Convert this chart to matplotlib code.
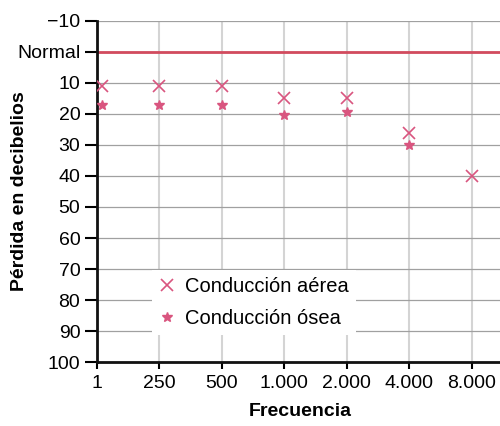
import matplotlib.pyplot as plt
import numpy as np

plt.rcParams['font.family'] = ['Liberation Sans', 'DejaVu Sans']

freq_labels = ['1', '250', '500', '1.000', '2.000', '4.000', '8.000']
aerea = [11, 11, 11, 15, 15, 26, 40]
osea = [17, 17, 17, 20.5, 19.5, 30]
y_ticks = [-10, 0, 10, 20, 30, 40, 50, 60, 70, 80, 90, 100]
y_labels = ['\u221210', 'Normal', '10', '20', '30', '40', '50', '60', '70', '80', '90', '100']

pink = '#d9557f'
red = '#d24b5e'

fig = plt.figure(figsize=(5, 4.26), dpi=100)
ax = fig.add_axes([0.194, 0.150, 0.812, 0.801])

x = np.arange(len(freq_labels))
ax.set_xlim(0, 6.5)
ax.set_ylim(100, -10)

ax.grid(True, axis='y', color='#a0a0a0', linewidth=0.9)
ax.grid(True, axis='x', color='#d4d4d4', linewidth=1.5)
ax.set_axisbelow(True)
ax.axhline(0, color=red, linewidth=2, zorder=2)

xa = x.astype(float)
xa[0] = 0.08
ax.plot(xa, aerea, linestyle='none', marker='x', markersize=8, markeredgewidth=1.2,
        color=pink, label='Conducción aérea', zorder=3)
ax.plot(xa[:len(osea)], osea, linestyle='none', marker='*', markersize=7,
        color=pink, label='Conducción ósea', zorder=3)

ax.set_xticks(x)
ax.set_xticklabels(freq_labels, fontsize=14)
ax.set_yticks(y_ticks)
ax.set_yticklabels(y_labels, fontsize=14)

for s in ['top', 'right']:
    ax.spines[s].set_visible(False)
for s in ['left', 'bottom']:
    ax.spines[s].set_linewidth(2)
    ax.spines[s].set_color('#111111')
ax.tick_params(axis='y', length=9, width=1.5, direction='out', pad=3)
ax.tick_params(axis='x', length=5, width=1.5, direction='out', pad=4)

ax.set_xlabel('Frecuencia', fontsize=14, fontweight='bold', labelpad=8)
ax.set_ylabel('Pérdida en decibelios', fontsize=14, fontweight='bold')
ax.yaxis.set_label_coords(-0.17, 0.5)

leg = ax.legend(loc='upper left', bbox_to_anchor=(0.135, 0.27), borderaxespad=0,
                frameon=True, fontsize=14.5, handletextpad=0.5, borderpad=0.35,
                labelspacing=0.65, handlelength=0.8)
leg.get_frame().set_edgecolor('none')
leg.get_frame().set_facecolor('white')
leg.get_frame().set_alpha(1)
leg.get_frame().set_boxstyle('square', pad=0)

fig.savefig('out.png', dpi=100)
